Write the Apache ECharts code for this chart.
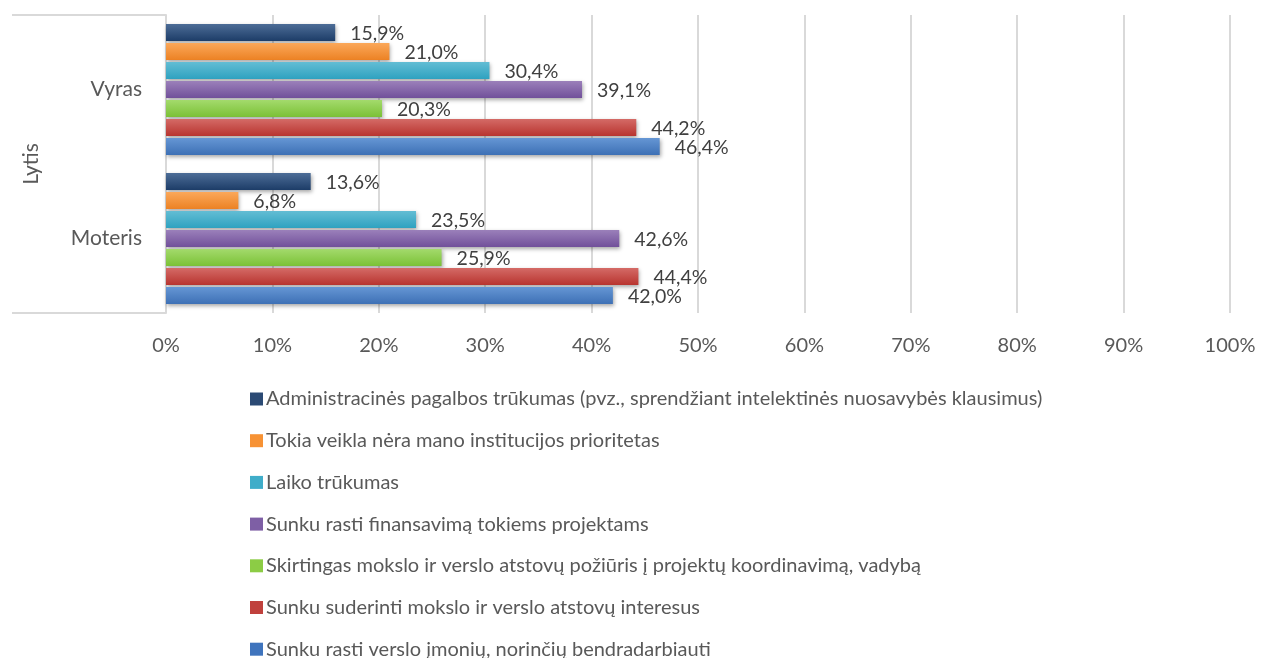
<!DOCTYPE html>
<html>
<head>
<meta charset="utf-8">
<script src="https://cdn.jsdelivr.net/npm/echarts@6/dist/echarts.min.js"></script>
<style>
  html, body { margin: 0; padding: 0; background: #fff; }
  #chart { width: 1261px; height: 658px; }
</style>
</head>
<body>
<div id="chart"></div>
<script>
// kategorijos (apačia -> viršus)
const categories = ["Moteris", "Vyras"];

// serijos (viršus -> apačia grupėje), reikšmės [Moteris, Vyras]
const seriesNames = [
  "Administracinės pagalbos trūkumas (pvz., sprendžiant intelektinės nuosavybės klausimus)",
  "Tokia veikla nėra mano institucijos prioritetas",
  "Laiko trūkumas",
  "Sunku rasti finansavimą tokiems projektams",
  "Skirtingas mokslo ir verslo atstovų požiūris į projektų koordinavimą, vadybą",
  "Sunku suderinti mokslo ir verslo atstovų interesus",
  "Sunku rasti verslo įmonių, norinčių bendradarbiauti"
];
const administracijaValues = [13.6, 15.9];
const prioritetasValues = [6.8, 21.0];
const laikasValues = [23.5, 30.4];
const finansavimasValues = [42.6, 39.1];
const pozirisValues = [25.9, 20.3];
const interesaiValues = [44.4, 44.2];
const verslasValues = [42.0, 46.4];

const xTicks = [0, 10, 20, 30, 40, 50, 60, 70, 80, 90, 100];

// spalvos: [viršus, apačia]
const colorPairs = [
  ["#4d6d97", "#1d3d68"],
  ["#fba85a", "#ec8224"],
  ["#63bdd4", "#2fa2c0"],
  ["#9b80ba", "#71509a"],
  ["#a3da6c", "#7bc136"],
  ["#d46a66", "#b8342f"],
  ["#6596d4", "#3d70b5"]
];
const legendColors = ["#2b4a74", "#f79234", "#3fadc9", "#7e5fa5", "#8ccc45", "#c0413d", "#3f74bd"];

const allValues = [administracijaValues, prioritetasValues, laikasValues, finansavimasValues,
  pozirisValues, interesaiValues, verslasValues];

const fontFamily = "Lato, 'Open Sans', sans-serif";
const textColor = "#595959";

let chart = echarts.init(document.getElementById("chart"));

const series = seriesNames.map(function (name, i) {
  return {
    name: name,
    type: "bar",
    data: allValues[i],
    barWidth: 17,
    barGap: "12%",
    itemStyle: {
      color: new echarts.graphic.LinearGradient(0, 0, 0, 1, [
        { offset: 0, color: colorPairs[i][0] },
        { offset: 1, color: colorPairs[i][1] }
      ]),
      shadowColor: "rgba(0,0,0,0.35)",
      shadowBlur: 4,
      shadowOffsetX: 1,
      shadowOffsetY: 2
    },
    label: {
      show: true,
      position: "right",
      distance: 15,
      offset: [0, 1],
      color: "#404040",
      fontFamily: fontFamily,
      fontSize: 19.5,
      formatter: function (p) {
        return p.value.toFixed(1).replace(".", ",") + "%";
      }
    }
  };
});

const option = {
  backgroundColor: "#fff",
  animation: false,
  textStyle: { fontFamily: fontFamily },
  grid: { left: 166, right: 31, top: 15, bottom: 345, containLabel: false },
  legend: {
    orient: "vertical",
    left: 245,
    top: 384,
    height: 290,
    itemWidth: 13,
    itemHeight: 13,
    itemGap: 21.7,
    icon: "rect",
    data: seriesNames.map(function (n, i) {
      return { name: n, itemStyle: { color: legendColors[i] } };
    }),
    textStyle: { color: textColor, fontSize: 20, fontFamily: fontFamily, padding: [0, 0, 0, -2] }
  },
  xAxis: {
    type: "value",
    min: xTicks[0],
    max: xTicks[xTicks.length - 1],
    interval: 10,
    axisLine: { show: false },
    axisTick: { show: false },
    splitLine: { lineStyle: { color: "#d9d9d9", width: 2 } },
    axisLabel: {
      color: textColor,
      fontSize: 20,
      fontFamily: fontFamily,
      margin: 23,
      formatter: "{value}%"
    }
  },
  yAxis: {
    type: "category",
    data: categories,
    name: "Lytis",
    nameLocation: "middle",
    nameRotate: 90,
    nameGap: 124,
    nameTextStyle: { color: textColor, fontSize: 21, fontFamily: fontFamily },
    axisLine: { show: true, lineStyle: { color: "#d9d9d9", width: 2 } },
    axisTick: {
      show: true,
      length: 154,
      interval: function (index) { return index === 0; },
      lineStyle: { color: "#d9d9d9", width: 2 }
    },
    axisLabel: { color: textColor, fontSize: 21, fontFamily: fontFamily, margin: 24 }
  },
  series: series
};

chart.setOption(option);
</script>
</body>
</html>
